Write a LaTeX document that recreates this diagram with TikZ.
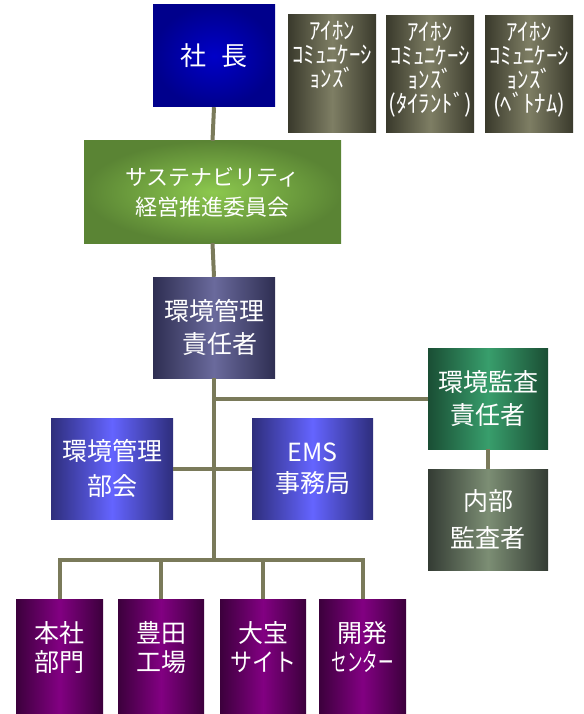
\documentclass[tikz,border=0pt]{standalone}
\usepackage{fontspec}
\setmainfont{Noto Sans CJK JP}
\newfontfamily\jpnarrow[FakeStretch=0.95]{Noto Sans CJK JP}
\definecolor{linec}{HTML}{7A7A5A}
\definecolor{ceoin}{HTML}{0000C8}
\definecolor{ceoout}{HTML}{00008C}
\definecolor{olvE}{HTML}{3A3A2C}
\definecolor{olvC}{HTML}{7E7E64}
\definecolor{grnin}{HTML}{8CC84E}
\definecolor{grnout}{HTML}{5A8434}
\definecolor{mgrE}{HTML}{2E2E52}
\definecolor{mgrC}{HTML}{6A6A9C}
\definecolor{audE}{HTML}{1A4E34}
\definecolor{audC}{HTML}{389E6C}
\definecolor{intE}{HTML}{343C34}
\definecolor{intC}{HTML}{7C8E74}
\definecolor{cmtE}{HTML}{2E2E7C}
\definecolor{cmtC}{HTML}{6464FF}
\definecolor{purE}{HTML}{3C003C}
\definecolor{purC}{HTML}{820082}
\newcommand{\kanabox}[2]{\parbox[t][#1][t]{88pt}{\centering\jpnarrow\fontsize{24}{24}\selectfont
  \rule{0pt}{25pt}#2}}
\newcommand{\botbox}[1]{\parbox[t][114pt][t]{86pt}{\centering\fontsize{25}{29}\selectfont
  \rule{0pt}{43pt}#1}}
\begin{document}
\begin{tikzpicture}[x=1pt,y=-1pt,
  conn/.style={draw=linec, line width=4pt},
  boxbase/.style={rectangle, inner sep=0pt, text=white, align=center},
  hg/.style 2 args={left color=#1, right color=#1, middle color=#2},
  big/.style={font=\fontsize{25}{33}\selectfont},
  kanatext/.style={boxbase, anchor=north west, hg={olvE}{olvC}},
  purbox/.style={boxbase, hg={purE}{purC}, minimum height=114pt},
]
\useasboundingbox (0,0) rectangle (583,714);

% top
\node[boxbase, inner color=ceoin, outer color=ceoout, minimum width=122pt, minimum height=102pt,
      font=\fontsize{26}{30}\selectfont] (ceo) at (214,56) {社\hspace{0.6em}長};

\node[kanatext] (ai1) at (288,14) {\kanabox{118pt}{ｱｲﾎﾝ\\ｺﾐｭﾆｹｰｼ\\ｮﾝｽﾞ}};
\node[kanatext] (ai2) at (386,15) {\kanabox{117pt}{ｱｲﾎﾝ\\ｺﾐｭﾆｹｰｼ\\ｮﾝｽﾞ\\(ﾀｲﾗﾝﾄﾞ)}};
\node[kanatext] (ai3) at (485,15) {\kanabox{117pt}{ｱｲﾎﾝ\\ｺﾐｭﾆｹｰｼ\\ｮﾝｽﾞ\\(ﾍﾞﾄﾅﾑ)}};

\node[boxbase, inner color=grnin, outer color=grnout, minimum width=257pt, minimum height=102pt,
      font=\fontsize{22}{30}\selectfont] (sus) at (212.5,192) {サステナビリティ\\経営推進委員会};

\node[boxbase, hg={mgrE}{mgrC}, minimum width=122pt, minimum height=101pt, big]
  (mgr) at (214,327.5) {環境管理\\\hspace*{0.5em}責任者};

\node[boxbase, hg={audE}{audC}, minimum width=120pt, minimum height=101pt, big]
  (aud) at (488,398.5) {環境監査\\責任者};
\node[boxbase, hg={intE}{intC}, minimum width=120pt, minimum height=101pt,
      font=\fontsize{25}{37}\selectfont]
  (int) at (488,519.5) {内部\\監査者};

\node[boxbase, hg={cmtE}{cmtC}, minimum width=122pt, minimum height=101pt,
      font=\fontsize{25}{35}\selectfont]
  (cmt) at (112,468.5) {環境管理\\部会};
\node[boxbase, hg={cmtE}{cmtC}, minimum width=121pt, minimum height=101pt,
      font=\fontsize{25}{31}\selectfont]
  (ems) at (312.5,468.5) {EMS\\事務局};

\node[purbox, minimum width=87pt] (hq)  at (59.5,656) {\botbox{本社\\部門}};
\node[purbox, minimum width=86pt] (fac) at (161,656) {\botbox{豊田\\工場}};
\node[purbox, minimum width=86pt] (oh)  at (263,656) {\botbox{大宝\\\scalebox{0.88}[1]{サイト}}};
\node[purbox, minimum width=87pt] (dev) at (362.5,656) {\botbox{開発\\\scalebox{0.62}[1]{センター}}};

% connectors
\coordinate (bus) at (214,560);
\draw[conn] (ceo.south) -- (sus.north);
\draw[conn] (sus.south) -- (mgr.north);
\draw[conn] (mgr.south) -- (bus);
\draw[conn] (mgr.south |- aud.west) -- (aud.west);
\draw[conn] (aud.south) -- (int.north);
\draw[conn] (cmt.east) -- (ems.west);
\draw[conn] (hq.north) |- (bus) -| (dev.north);
\draw[conn] (fac.north) -- (fac.north |- bus);
\draw[conn] (oh.north) -- (oh.north |- bus);
\end{tikzpicture}
\end{document}
